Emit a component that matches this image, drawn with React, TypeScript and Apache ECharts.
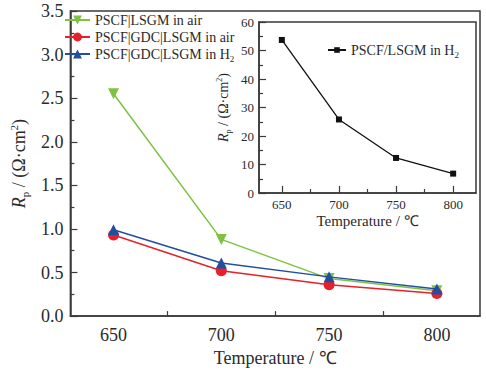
import React, { useEffect, useRef } from "react";
import * as echarts from "echarts";

const temps = [650, 700, 750, 800];
const pscfLsgmAir = [2.55, 0.88, 0.43, 0.29];
const pscfGdcLsgmAir = [0.93, 0.52, 0.36, 0.26];
const pscfGdcLsgmH2 = [0.99, 0.61, 0.45, 0.31];
const insetH2 = [53.7, 25.8, 12.3, 6.8];
const xLabels = [650, 700, 750, 800];
const xMinorTicks = [675, 725, 775];

const FONT = "Liberation Serif";
const AX = "#3a3a3a";
const TXT = "#2a2a2a";

const pair = (ys: number[]) => temps.map((t, i) => [t, ys[i]]);

export default function App() {
  const ref = useRef<HTMLDivElement>(null);
  useEffect(() => {
    const chart = echarts.init(ref.current!, null, { renderer: "svg" });
    const yTitleRich = (fs: number) => {
      const lh = Math.round(fs * 1.2);
      return {
        i: { fontFamily: FONT, fontStyle: "italic", fontSize: fs, color: TXT, lineHeight: lh },
        s: { fontFamily: FONT, fontSize: Math.round(fs * 0.6), color: TXT, lineHeight: lh, verticalAlign: "bottom" },
        n: { fontFamily: FONT, fontSize: fs, color: TXT, lineHeight: lh },
        u: { fontFamily: FONT, fontSize: Math.round(fs * 0.6), color: TXT, lineHeight: lh, verticalAlign: "top" },
      };
    };
    const legendRich = {
      n: { fontFamily: FONT, fontSize: 14, color: TXT, lineHeight: 18 },
      s: { fontFamily: FONT, fontSize: 9, color: TXT, lineHeight: 18, verticalAlign: "bottom" },
    };
    const subFormatter = (name: string) =>
      name.endsWith("H2") ? `{n|${name.slice(0, -1)}}{s|2}` : `{n|${name}}`;
    const yName = "{i|R}{s|p}{n| / (Ω·cm}{u|2}{n|)}";

    chart.setOption({
      animation: false,
      backgroundColor: "#fff",
      grid: [
        { left: 62, top: 11, width: 418, height: 306, show: true, borderColor: AX, borderWidth: 1.5, backgroundColor: "transparent" },
        { left: 259, top: 22, width: 217, height: 171, show: true, borderColor: AX, borderWidth: 1.5, backgroundColor: "#fff", z: 5 },
      ],
      legend: [
        {
          left: 64,
          top: 13,
          padding: 0,
          orient: "vertical",
          itemGap: 3,
          itemWidth: 25,
          itemHeight: 11,
          data: ["PSCF|LSGM in air", "PSCF|GDC|LSGM in air", "PSCF|GDC|LSGM in H2"],
          formatter: subFormatter,
          textStyle: { rich: legendRich },
        },
        {
          left: 327,
          top: 43,
          padding: 0,
          itemWidth: 18,
          itemHeight: 7,
          data: ["PSCF/LSGM in H2"],
          formatter: subFormatter,
          textStyle: { rich: legendRich },
          z: 20,
        },
      ],
      xAxis: [
        {
          type: "value", gridIndex: 0, min: 630, max: 820,
          name: "Temperature / ℃", nameLocation: "middle", nameGap: 21,
          nameTextStyle: { fontFamily: FONT, fontSize: 18, color: TXT },
          axisLine: { show: true, lineStyle: { color: AX, width: 1.5 } },
          axisTick: { show: true, inside: true, length: 5, customValues: xMinorTicks, lineStyle: { color: AX, width: 1.2 } },
          axisLabel: { customValues: xLabels, fontFamily: FONT, fontSize: 18, color: TXT, margin: 10 },
          splitLine: { show: false },
        },
        {
          type: "value", gridIndex: 1, min: 630, max: 820,
          name: "Temperature / ℃", nameLocation: "middle", nameGap: 20,
          nameTextStyle: { fontFamily: FONT, fontSize: 15, color: TXT },
          axisLine: { show: true, lineStyle: { color: AX, width: 1.5 } },
          axisTick: { show: true, inside: true, length: 7, customValues: xLabels, lineStyle: { color: AX, width: 1.2 } },
          axisLabel: { customValues: xLabels, fontFamily: FONT, fontSize: 13, color: TXT, margin: 5 },
          splitLine: { show: false },
          z: 10,
        },
        {
          type: "value", gridIndex: 1, min: 630, max: 820, position: "bottom",
          axisLine: { show: false },
          axisTick: { show: true, inside: true, length: 4, customValues: xMinorTicks, lineStyle: { color: AX, width: 1.2 } },
          axisLabel: { show: false },
          splitLine: { show: false },
          z: 10,
        },
      ],
      yAxis: [
        {
          type: "value", gridIndex: 0, min: 0, max: 3.5, interval: 0.5,
          name: yName, nameLocation: "middle", nameGap: 35,
          nameTextStyle: { rich: yTitleRich(18) },
          axisLine: { show: true, lineStyle: { color: AX, width: 1.5 } },
          axisTick: { show: true, inside: true, length: 7, lineStyle: { color: AX, width: 1.2 } },
          minorTick: { show: true, splitNumber: 2, length: 4, lineStyle: { color: AX, width: 1.2 } },
          axisLabel: { fontFamily: FONT, fontSize: 18, color: TXT, margin: 7, formatter: (v: number) => v.toFixed(1) },
          splitLine: { show: false },
        },
        {
          type: "value", gridIndex: 1, min: 0, max: 60, interval: 10,
          name: yName, nameLocation: "middle", nameGap: 27,
          nameTextStyle: { rich: yTitleRich(14) },
          axisLine: { show: true, lineStyle: { color: AX, width: 1.5 } },
          axisTick: { show: true, inside: true, length: 7, lineStyle: { color: AX, width: 1.2 } },
          minorTick: { show: true, splitNumber: 2, length: 4, lineStyle: { color: AX, width: 1.2 } },
          axisLabel: { fontFamily: FONT, fontSize: 13, color: TXT, margin: 5 },
          splitLine: { show: false },
          z: 10,
        },
      ],
      series: [
        {
          name: "PSCF|LSGM in air", type: "line", xAxisIndex: 0, yAxisIndex: 0,
          data: pair(pscfLsgmAir), symbol: "triangle", symbolRotate: 180, symbolSize: 11,
          itemStyle: { color: "#7dc242" }, lineStyle: { width: 1.5, color: "#7dc242" }, z: 2,
        },
        {
          name: "PSCF|GDC|LSGM in air", type: "line", xAxisIndex: 0, yAxisIndex: 0,
          data: pair(pscfGdcLsgmAir), symbol: "circle", symbolSize: 11,
          itemStyle: { color: "#e8202a" }, lineStyle: { width: 1.5, color: "#e8202a" }, z: 3,
        },
        {
          name: "PSCF|GDC|LSGM in H2", type: "line", xAxisIndex: 0, yAxisIndex: 0,
          data: pair(pscfGdcLsgmH2), symbol: "triangle", symbolSize: 11,
          itemStyle: { color: "#1f4fa0" }, lineStyle: { width: 1.5, color: "#1f4fa0" }, z: 4,
        },
        {
          name: "PSCF/LSGM in H2", type: "line", xAxisIndex: 1, yAxisIndex: 1,
          data: pair(insetH2), symbol: "rect", symbolSize: 6,
          itemStyle: { color: "#111" }, lineStyle: { width: 1.3, color: "#111" }, z: 10,
        },
      ],
    });
    return () => chart.dispose();
  }, []);
  return <div ref={ref} style={{ width: 486, height: 372, position: "absolute", left: 0, top: 0 }} />;
}
